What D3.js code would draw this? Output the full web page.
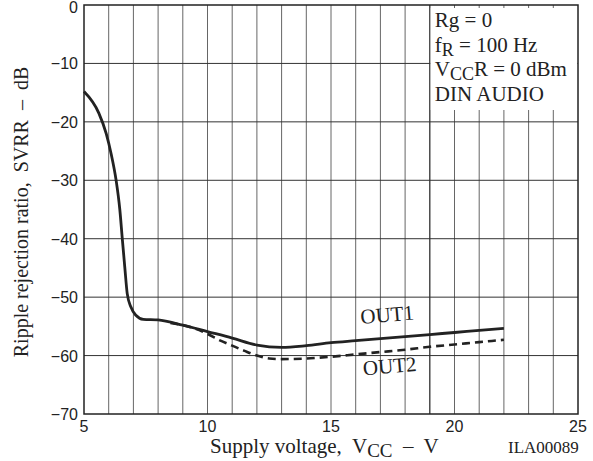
<!DOCTYPE html>
<html lang="en">
<head>
  <meta charset="UTF-8">
  <title>SVRR vs supply voltage</title>
  <script src="https://d3js.org/d3.v7.min.js"></script>
  <style>
    body { margin: 0; background: #fff; }
    svg { display: block; }
    text { white-space: pre; }
    .tick-label { font-family: "Liberation Sans", Arial, sans-serif; font-size: 16px; fill: #222; }
    .serif { font-family: "Liberation Serif", "Times New Roman", serif; fill: #222; }
  </style>
</head>
<body>
  <svg width="593" height="461"></svg>
  <script>
    // data
    const volts1 = [5, 5.6, 5.9, 6.1, 6.3, 6.45, 6.55, 6.65, 6.75, 6.9, 7.1, 7.4, 8, 9, 10, 11, 12, 13, 14, 15, 16, 17, 18, 19, 20, 21, 22];
    const out1 = [-14.8, -18.5, -22, -25.5, -30, -35, -40, -44.8, -49.4, -51.7, -53.1, -53.8, -53.9, -54.8, -55.9, -57.0, -58.2, -58.6, -58.3, -57.8, -57.45, -57.1, -56.75, -56.4, -56.05, -55.7, -55.35];
    const volts2 = [8.5, 9, 9.5, 10, 10.5, 11, 11.5, 12, 12.5, 13, 14, 15, 16, 17, 18, 19, 20, 21, 22];
    const out2 = [-54.4, -54.8, -55.4, -56.3, -57.4, -58.3, -59.2, -60.0, -60.5, -60.6, -60.5, -60.2, -59.8, -59.4, -59.0, -58.5, -58.1, -57.7, -57.3];
    const xTicks = [5, 10, 15, 20, 25];
    const yTicks = [0, -10, -20, -30, -40, -50, -60, -70];
    const notes = ["Rg = 0", "f|R| = 100 Hz", "V|CC|R = 0 dBm", "DIN AUDIO"];

    const svg = d3.select("svg");
    const margin = {top: 5, left: 84, right: 15, bottom: 47};
    const width = 593 - margin.left - margin.right;
    const height = 461 - margin.top - margin.bottom;

    const x = d3.scaleLinear().domain([5, 25]).range([0, width]);
    const y = d3.scaleLinear().domain([0, -70]).range([0, height]);

    const g = svg.append("g").attr("transform", `translate(${margin.left},${margin.top})`);

    // grid
    g.selectAll(".vgrid")
      .data(d3.range(6, 25))
      .enter().append("line")
      .attr("x1", d => x(d)).attr("x2", d => x(d))
      .attr("y1", 0).attr("y2", height)
      .attr("stroke", "#666").attr("stroke-width", 1);

    g.selectAll(".hgrid")
      .data(yTicks.slice(1, -1))
      .enter().append("line")
      .attr("x1", 0).attr("x2", width)
      .attr("y1", d => y(d)).attr("y2", d => y(d))
      .attr("stroke", "#333").attr("stroke-width", 1);

    // note box covers grid, leaving short stubs
    const bx = x(19), bw = width - x(19), bh = 105;
    g.append("rect").attr("x", bx + 0.5).attr("y", 3).attr("width", bw - 1).attr("height", bh - 3).attr("fill", "#fff");
    g.append("line").attr("x1", bx).attr("x2", bx).attr("y1", 0).attr("y2", height).attr("stroke", "#333");

    const nt = g.append("g").attr("class", "serif").attr("font-size", 21);
    const noteY = [22, 47, 71, 96];
    notes.forEach((s, i) => {
      const t = nt.append("text").attr("x", bx + 5).attr("y", noteY[i]);
      const parts = s.split("|");
      parts.forEach((p, j) => {
        if (!p) return;
        const sp = t.append("tspan").text(p);
        if (j === 1) sp.attr("dy", 4).attr("font-size", 18);
        if (j === 2 && parts[1]) sp.attr("dy", -4);
      });
    });

    // frame
    g.append("rect").attr("width", width).attr("height", height)
      .attr("fill", "none").attr("stroke", "#222").attr("stroke-width", 1.5);

    // curves
    const line = d3.line().x(d => x(d[0])).y(d => y(d[1])).curve(d3.curveMonotoneX);
    g.append("path")
      .datum(volts2.map((v, i) => [v, out2[i]]))
      .attr("d", line).attr("fill", "none")
      .attr("stroke", "#222").attr("stroke-width", 2.6).attr("stroke-dasharray", "8,5");
    g.append("path")
      .datum(volts1.map((v, i) => [v, out1[i]]))
      .attr("d", line).attr("fill", "none")
      .attr("stroke", "#222").attr("stroke-width", 2.8);

    g.append("text").attr("class", "serif").attr("font-size", 21).attr("text-anchor", "middle")
      .attr("transform", `translate(${x(17.3)},${y(-54.2)}) rotate(-5)`).text("OUT1");
    g.append("text").attr("class", "serif").attr("font-size", 21).attr("text-anchor", "middle")
      .attr("transform", `translate(${x(17.4)},${y(-63.0)}) rotate(-5)`).text("OUT2");

    // tick labels
    g.selectAll(".yl").data(yTicks).enter().append("text")
      .attr("class", "tick-label").attr("text-anchor", "end")
      .attr("x", -6).attr("y", d => d === 0 ? 7.5 : y(d) + 6).text(d => d === 0 ? "0" : "\u2212" + Math.abs(d));
    g.selectAll(".xl").data(xTicks).enter().append("text")
      .attr("class", "tick-label").attr("text-anchor", "middle")
      .attr("x", d => x(d)).attr("y", height + 18).text(d => d);

    // axis titles
    const xt = svg.append("text").attr("class", "serif").attr("font-size", 21)
      .attr("x", 210).attr("y", 453);
    xt.append("tspan").text("Supply voltage,  V");
    xt.append("tspan").attr("dy", 4).attr("font-size", 19).text("CC");
    xt.append("tspan").attr("dy", -4).text("  \u2013  V");

    svg.append("text").attr("class", "serif").attr("font-size", 17)
      .attr("x", 508).attr("y", 453).text("ILA00089");

    svg.append("text").attr("class", "serif").attr("font-size", 20)
      .attr("text-anchor", "middle")
      .attr("transform", "translate(28,212) rotate(-90)")
      .text("Ripple rejection ratio,  SVRR  \u2013  dB");
  </script>
</body>
</html>
